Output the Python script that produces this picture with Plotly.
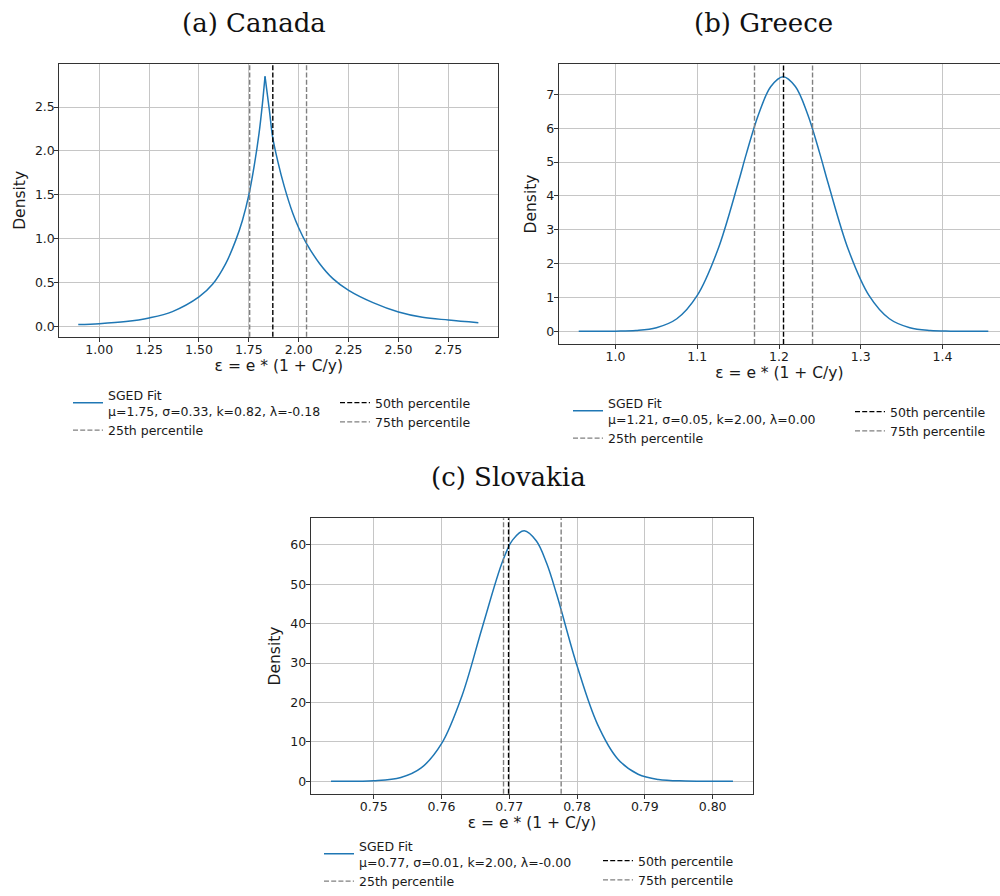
import plotly.graph_objects as go

# ---------------- data ----------------
titles = ["(a) Canada", "(b) Greece", "(c) Slovakia"]
fit_labels = [
    "SGED Fit<br>μ=1.75, σ=0.33, k=0.82, λ=-0.18",
    "SGED Fit<br>μ=1.21, σ=0.05, k=2.00, λ=0.00",
    "SGED Fit<br>μ=0.77, σ=0.01, k=2.00, λ=-0.00",
]

canada_x = [0.895, 1.0, 1.134, 1.25, 1.367, 1.50, 1.568, 1.634, 1.684, 1.718, 1.751, 1.776,
            1.801, 1.818, 1.831, 1.853, 1.869, 1.894, 1.928, 1.970, 2.0, 2.037, 2.104, 2.171,
            2.25, 2.372, 2.50, 2.62, 2.75, 2.90]
canada_y = [0.021, 0.031, 0.055, 0.096, 0.168, 0.335, 0.479, 0.715, 0.98, 1.21, 1.51, 1.82,
            2.20, 2.54, 2.85, 2.46, 2.16, 1.89, 1.59, 1.289, 1.122, 0.953, 0.717, 0.544,
            0.41, 0.27, 0.163, 0.103, 0.072, 0.042]
canada_peak_index = 14

greece_x = [0.955, 1.0, 1.025, 1.05, 1.075, 1.1, 1.125, 1.15, 1.16, 1.175, 1.19, 1.205,
            1.22, 1.235, 1.25, 1.26, 1.285, 1.31, 1.335, 1.36, 1.385, 1.41, 1.456]
greece_y = [0.0, 0.004, 0.023, 0.105, 0.37, 1.06, 2.40, 4.38, 5.24, 6.41, 7.23, 7.52,
            7.23, 6.41, 5.24, 4.38, 2.40, 1.06, 0.37, 0.105, 0.023, 0.004, 0.0]

slovakia_x = [0.7437, 0.750, 0.754, 0.757, 0.760, 0.763, 0.766, 0.769, 0.7705, 0.7722,
              0.774, 0.7755, 0.777, 0.780, 0.783, 0.786, 0.789, 0.792, 0.796, 0.803]
slovakia_y = [0.0, 0.12, 0.94, 3.37, 9.52, 21.6, 39.0, 55.8, 61.3, 63.6,
              61.0, 55.4, 47.4, 29.3, 14.5, 5.66, 1.75, 0.43, 0.05, 0.0]

# percentiles: 25th, 50th, 75th
canada_pct = [1.754, 1.870, 2.039]
greece_pct = [1.170, 1.2055, 1.241]
slovakia_pct = [0.76915, 0.76989, 0.77765]
pct_names = ["25th percentile", "50th percentile", "75th percentile"]

# tick labels
canada_xticks = [1.00, 1.25, 1.50, 1.75, 2.00, 2.25, 2.50, 2.75]
canada_xtext = ["1.00", "1.25", "1.50", "1.75", "2.00", "2.25", "2.50", "2.75"]
canada_yticks = [0.0, 0.5, 1.0, 1.5, 2.0, 2.5]
canada_ytext = ["0.0", "0.5", "1.0", "1.5", "2.0", "2.5"]
greece_xticks = [1.0, 1.1, 1.2, 1.3, 1.4]
greece_xtext = ["1.0", "1.1", "1.2", "1.3", "1.4"]
greece_yticks = [0, 1, 2, 3, 4, 5, 6, 7]
greece_ytext = ["0", "1", "2", "3", "4", "5", "6", "7"]
slovakia_xticks = [0.75, 0.76, 0.77, 0.78, 0.79, 0.80]
slovakia_xtext = ["0.75", "0.76", "0.77", "0.78", "0.79", "0.80"]
slovakia_yticks = [0, 10, 20, 30, 40, 50, 60]
slovakia_ytext = ["0", "10", "20", "30", "40", "50", "60"]

x_label = "ε = e * (1 + C/y)"
y_label = "Density"

# ---------------- styling / layout ----------------
W, H = 1000, 896
BLUE = "#1f77b4"
GRID = "#c6c6c6"
FRAME = "#333333"
TXT = "#1a1a1a"
SANS = "DejaVu Sans"
SERIF = "DejaVu Serif"


def py(p):
    return 1 - p / H


# legend columns: (left px, y px, anchor)
panels = [
    dict(xdom=[0.0593, 0.4983], ydom=[py(336.7), py(64)], xr=[0.8, 3.0], yr=[-0.118, 2.991],
         xt=(canada_xticks, canada_xtext), yt=(canada_yticks, canada_ytext), pct=canada_pct,
         leg=((68, 380, "top"), (335, 388, "top")), title=(253.5, 23)),
    dict(xdom=[0.5587, 1.0], ydom=[py(344), py(64)], xr=[0.9305, 1.4703], yr=[-0.376, 7.896],
         xt=(greece_xticks, greece_xtext), yt=(greece_yticks, greece_ytext), pct=greece_pct,
         leg=((568, 388, "top"), (850, 397, "top")), title=(763.5, 23)),
    dict(xdom=[0.3107, 0.7533], ydom=[py(793.7), py(518.3)], xr=[0.7407, 0.8060], yr=[-3.18, 66.78],
         xt=(slovakia_xticks, slovakia_xtext), yt=(slovakia_yticks, slovakia_ytext), pct=slovakia_pct,
         leg=((319, 896, "bottom"), (598, 895, "bottom")), title=(508.5, 477)),
]

fig = go.Figure()

curves = [(canada_x, canada_y), (greece_x, greece_y), (slovakia_x, slovakia_y)]

for i, (p, (cx, cy)) in enumerate(zip(panels, curves)):
    ax = "" if i == 0 else str(i + 1)
    xref, yref = "x" + ax, "y" + ax
    n1 = 2 * i + 1
    lg1 = "legend" if n1 == 1 else "legend%d" % n1
    lg2 = "legend%d" % (n1 + 1)
    line_style = dict(color=BLUE, width=1.5, shape="spline", smoothing=1.0)
    if i == 0:
        k = canada_peak_index
        fig.add_trace(go.Scatter(x=cx[:k + 1], y=cy[:k + 1], mode="lines", name=fit_labels[i],
                                 line=line_style, xaxis=xref, yaxis=yref, legend=lg1,
                                 legendgroup="fit", legendrank=1))
        fig.add_trace(go.Scatter(x=cx[k:], y=cy[k:], mode="lines", name=fit_labels[i],
                                 line=line_style, xaxis=xref, yaxis=yref, legend=lg1,
                                 legendgroup="fit", showlegend=False))
    else:
        fig.add_trace(go.Scatter(x=cx, y=cy, mode="lines", name=fit_labels[i],
                                 line=line_style, xaxis=xref, yaxis=yref, legend=lg1,
                                 legendrank=1))
    # percentile lines: 25th goes in column 1, 50th and 75th in column 2
    colors = ["#808080", "#000000", "#808080"]
    legs = [lg1, lg2, lg2]
    ranks = [2, 1, 2]
    for j in range(3):
        fig.add_shape(type="line", xref=xref, yref=yref + " domain",
                      x0=p["pct"][j], x1=p["pct"][j], y0=0, y1=1,
                      line=dict(color=colors[j], width=1.4, dash="5px,2.2px"),
                      showlegend=True, name=pct_names[j], legend=legs[j], legendrank=ranks[j])

    xa = dict(domain=p["xdom"], range=p["xr"], anchor=yref,
              tickmode="array", tickvals=p["xt"][0], ticktext=p["xt"][1],
              showgrid=True, gridcolor=GRID, gridwidth=1, zeroline=False,
              showline=True, linecolor=FRAME, linewidth=1, mirror=True,
              ticks="outside", ticklen=4, tickcolor=FRAME, tickwidth=1, ticklabelstandoff=-3,
              tickfont=dict(family=SANS, size=12.5, color=TXT),
              title=dict(text=x_label, font=dict(family=SANS, size=15.5, color=TXT), standoff=4))
    ya = dict(domain=p["ydom"], range=p["yr"], anchor=xref,
              tickmode="array", tickvals=p["yt"][0], ticktext=p["yt"][1],
              showgrid=True, gridcolor=GRID, gridwidth=1, zeroline=False,
              showline=True, linecolor=FRAME, linewidth=1, mirror=(i != 1),
              ticks="outside", ticklen=4, tickcolor=FRAME, tickwidth=1, ticklabelstandoff=-3,
              tickfont=dict(family=SANS, size=12.5, color=TXT),
              title=dict(text=y_label, font=dict(family=SANS, size=15.5, color=TXT), standoff=5))
    fig.update_layout(**{"xaxis" + ax: xa, "yaxis" + ax: ya})

    for lg, (lx, ly, anc) in zip([lg1, lg2], p["leg"]):
        fig.update_layout(**{lg: dict(
            x=lx / W, y=py(ly), xanchor="left", yanchor=anc, orientation="v",
            bgcolor="rgba(0,0,0,0)", borderwidth=0, valign="middle",
            font=dict(family=SANS, size=12.5, color=TXT), tracegroupgap=0,
            traceorder="normal")})

    tx, ty = p["title"]
    fig.add_annotation(text=titles[i], x=tx / W, y=py(ty), xref="paper", yref="paper",
                       xanchor="center", yanchor="middle", showarrow=False,
                       font=dict(family=SERIF, size=26, color="#111111"))

fig.update_layout(width=W, height=H, margin=dict(l=0, r=0, t=0, b=0),
                  paper_bgcolor="white", plot_bgcolor="white",
                  font=dict(family=SANS, color=TXT))

fig.write_html("out.html")
